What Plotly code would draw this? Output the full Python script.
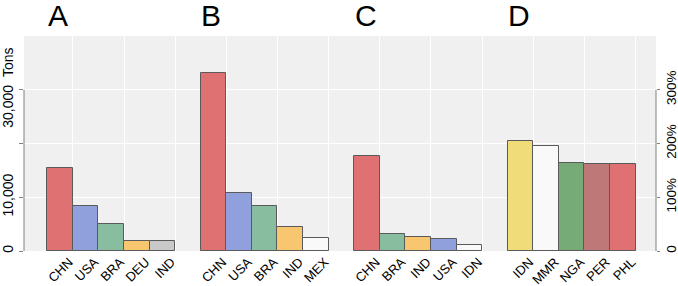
import plotly.graph_objects as go

# ---- data ----
panel_titles = ["A", "B", "C", "D"]
cats_A = ["CHN", "USA", "BRA", "DEU", "IND"]
vals_A = [15400, 8400, 5100, 1900, 1900]          # tons
cats_B = ["CHN", "USA", "BRA", "IND", "MEX"]
vals_B = [33100, 10700, 8400, 4400, 2400]         # tons
cats_C = ["CHN", "BRA", "IND", "USA", "IDN"]
vals_C = [17700, 3100, 2600, 2200, 1200]          # tons
cats_D = ["IDN", "MMR", "NGA", "PER", "PHL"]
vals_D = [204, 196, 164, 161, 161]                # percent

tons_tickvals = [0, 10000, 20000, 30000]
tons_ticktext = ["0", "10,000", "", "30,000\u00a0\u00a0Tons"]
pct_tickvals = [0, 100, 200, 300]
pct_ticktext = ["0", "100%", "200%", "300%"]

# ---- styles ----
RED, BLUE, GREEN, ORANGE = "#e07173", "#8fa0dc", "#88bd9f", "#f7c66f"
GREY, WHITE, YELLOW, DGREEN, ROSE = "#c9c9c9", "#f9f9f9", "#f0dc78", "#76aa76", "#bf7878"
colors_A = [RED, BLUE, GREEN, ORANGE, GREY]
colors_B = [RED, BLUE, GREEN, ORANGE, WHITE]
colors_C = [RED, GREEN, ORANGE, BLUE, WHITE]
colors_D = [YELLOW, WHITE, DGREEN, ROSE, RED]

groups = [(cats_A, vals_A, colors_A, "y"),
          (cats_B, vals_B, colors_B, "y"),
          (cats_C, vals_C, colors_C, "y"),
          (cats_D, vals_D, colors_D, "y2")]

GROUP_STEP = 6
fig = go.Figure()
all_pos, all_lab = [], []
for g, (cats, vals, cols, yax) in enumerate(groups):
    pos = [g * GROUP_STEP + i for i in range(len(cats))]
    all_pos += pos
    all_lab += cats
    fig.add_trace(go.Bar(x=pos, y=vals, width=1, yaxis=yax,
                         marker=dict(color=cols, line=dict(color="#5a5a5a", width=1)),
                         showlegend=False, hoverinfo="skip"))
    fig.add_annotation(x=pos[0] - 0.55, xref="x", y=1, yref="paper",
                       xanchor="left", yanchor="bottom", yshift=2,
                       text=panel_titles[g], showarrow=False,
                       font=dict(size=30, color="black"))

AXC = "#808080"
FONT = "Liberation Sans, Arial, sans-serif"
TICKFONT = dict(family=FONT, size=14, color="black")
RTICKFONT = dict(family=FONT, size=13.5, color="black")
XTICKFONT = dict(family=FONT, size=13, color="black")
minor_grid = [-1.5 + 2 * k for k in range(13)]

fig.update_layout(
    width=678, height=286,
    margin=dict(l=24, r=22, t=36, b=35, autoexpand=False),
    paper_bgcolor="white", plot_bgcolor="#f0f0f0",
    font=dict(family=FONT, size=14, color="black"),
    bargap=0,
    xaxis=dict(range=[-1.41, 23.3], tickmode="array", tickvals=all_pos, ticktext=all_lab,
               tickangle=-45, ticks="", showgrid=False, zeroline=False, showline=False,
               automargin=False, tickfont=XTICKFONT,
               ticklabelshift=9, ticklabelstandoff=0,
               minor=dict(tickmode="array", tickvals=minor_grid, showgrid=True,
                          gridcolor="white", gridwidth=1, ticks="")),
    yaxis=dict(range=[0, 40000], tickmode="array", tickvals=tons_tickvals, ticktext=tons_ticktext,
               tickangle=-90, ticks="outside", ticklen=4, tickcolor=AXC, automargin=False,
               tickfont=TICKFONT,
               showgrid=True, gridcolor="white", gridwidth=1, zeroline=False, showline=False),
    yaxis2=dict(range=[0, 400], overlaying="y", side="right", tickmode="array",
                tickvals=pct_tickvals, ticktext=pct_ticktext, tickangle=-90,
                ticks="outside", ticklen=3, tickcolor=AXC, automargin=False,
                tickfont=RTICKFONT,
                showgrid=False, zeroline=False, showline=False),
)

fig.add_shape(type="line", xref="paper", x0=0, x1=0, yref="y",
              y0=tons_tickvals[0], y1=tons_tickvals[-1], line=dict(color=AXC, width=1))
fig.add_shape(type="line", xref="paper", x0=1, x1=1, yref="y2",
              y0=pct_tickvals[0], y1=pct_tickvals[-1], line=dict(color=AXC, width=1))

fig.write_html("out.html", config={"displayModeBar": False},
               post_script="document.body.style.margin='0';document.body.style.overflow='hidden';")
